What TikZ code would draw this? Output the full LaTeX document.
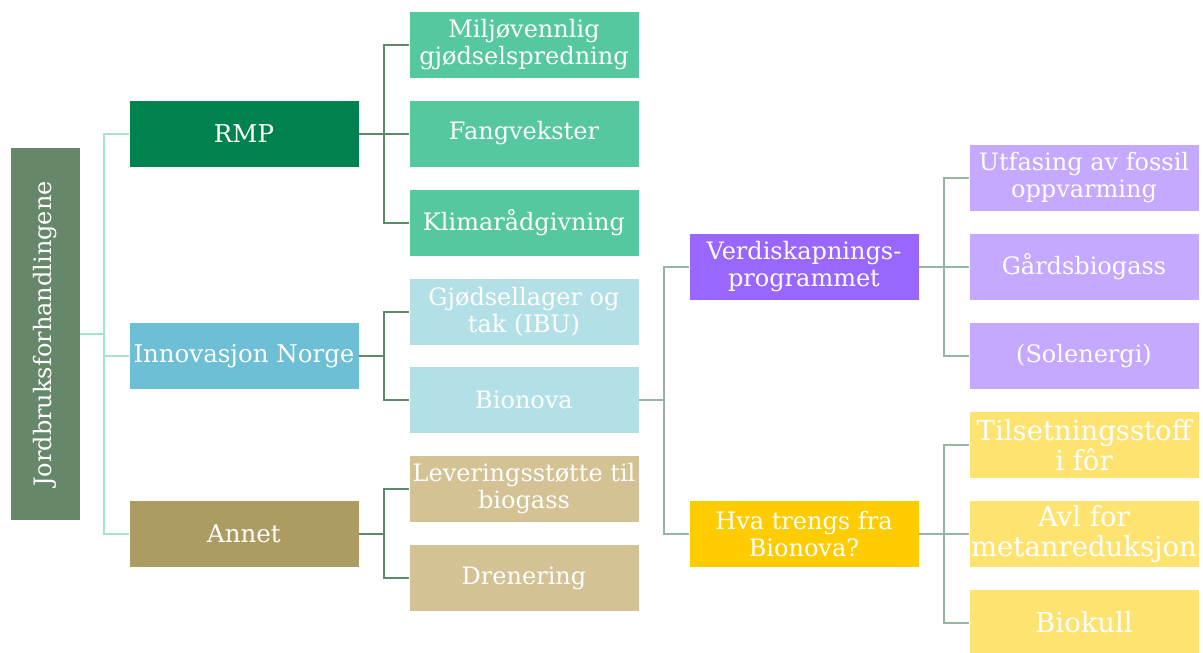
\documentclass[tikz,border=0pt]{standalone}
\usepackage{fontspec}
\setmainfont{DejaVu Serif}
\usetikzlibrary{calc}
\definecolor{crootf}{HTML}{66876A}
\definecolor{crmp}{HTML}{00824F}
\definecolor{cgreen}{HTML}{55C89E}
\definecolor{cinno}{HTML}{6CBFD4}
\definecolor{cblue}{HTML}{B3DFE7}
\definecolor{cannet}{HTML}{AC9C62}
\definecolor{ctan}{HTML}{D4C194}
\definecolor{cverdi}{HTML}{9966FF}
\definecolor{cpurple}{HTML}{C5A8FF}
\definecolor{chva}{HTML}{FFCC00}
\definecolor{cyellow}{HTML}{FFE370}
\definecolor{lmint}{HTML}{A6E3CC}
\definecolor{ldark}{HTML}{5F8A6A}
\definecolor{lgrey}{HTML}{97B6A2}
\tikzset{
  box/.style={rectangle, minimum width=230pt, minimum height=67pt, inner sep=0pt,
    text=white, align=center, font=\fontsize{24}{27}\selectfont, draw=white, line width=0.6pt},
  topbox/.style={box, font=\fontsize{24.5}{28}\selectfont},
  bigbox/.style={box, font=\fontsize{27.5}{30}\selectfont},
  conA/.style={draw=lmint, line width=2pt},
  conB/.style={draw=ldark, line width=2pt},
  conC/.style={draw=lgrey, line width=2pt},
}
\begin{document}
\begin{tikzpicture}[x=1pt,y=-1pt]
\useasboundingbox (0,0) rectangle (1203,653);
% root
\node[rectangle, fill=crootf, minimum width=69pt, minimum height=372pt, inner sep=0pt, text=white, font=\fontsize{24}{28}\selectfont] (root) at (45.5,334) {\rotatebox{90}{Jordbruksforhandlingene}};
% level 1
\node[topbox, fill=crmp] (rmp) at (244,133.5) {RMP};
\node[topbox, fill=cinno] (inno) at (244,356) {Innovasjon Norge};
\node[topbox, fill=cannet] (annet) at (244,534) {Annet};
% level 2
\node[box, fill=cgreen] (milj) at (524,44.5) {Miljøvennlig\\gjødselspredning};
\node[box, fill=cgreen] (fang) at (524,133.5) {Fangvekster};
\node[box, fill=cgreen] (klima) at (524,222.5) {Klimarådgivning};
\node[box, fill=cblue] (gjod) at (524,311.5) {Gjødsellager og\\tak (IBU)};
\node[box, fill=cblue] (bion) at (524,400) {Bionova};
\node[box, fill=ctan] (lev) at (524,489) {Leveringsstøtte til\\biogass};
\node[box, fill=ctan] (dren) at (524,578) {Drenering};
% level 3
\node[box, fill=cverdi] (verdi) at (804,267) {Verdiskapnings-\\programmet};
\node[box, fill=chva] (hva) at (804,534) {Hva trengs fra\\Bionova?};
% level 4
\node[box, fill=cpurple] (utf) at (1084,178) {Utfasing av fossil\\oppvarming};
\node[box, fill=cpurple] (gard) at (1084,267) {Gårdsbiogass};
\node[box, fill=cpurple] (sol) at (1084,356) {(Solenergi)};
\node[bigbox, fill=cyellow] (tils) at (1084,445) {Tilsetningsstoff\\i fôr};
\node[bigbox, fill=cyellow] (avl) at (1084,534) {Avl for\\metanreduksjon};
\node[bigbox, fill=cyellow] (biok) at (1084,622.5) {Biokull};
% connectors
\coordinate (j0) at (104,334);
\draw[conA] (root.east) -- (j0) |- (rmp.west);
\draw[conA] (j0) |- (inno.west);
\draw[conA] (j0) |- (annet.west);
\foreach \p/\c in {rmp/milj, rmp/fang, rmp/klima, inno/gjod, inno/bion, annet/lev, annet/dren}
  \draw[conB] (\p.east) -- ++(25,0) |- (\c.west);
\foreach \p/\c in {bion/verdi, bion/hva, verdi/utf, verdi/gard, verdi/sol, hva/tils, hva/avl, hva/biok}
  \draw[conC] (\p.east) -- ++(25,0) |- (\c.west);
\end{tikzpicture}
\end{document}
